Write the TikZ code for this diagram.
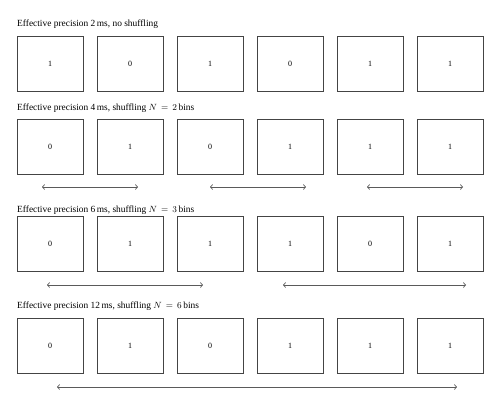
\documentclass[tikz,border=0pt]{standalone}
\usepackage{fontspec}
\setmainfont{Liberation Serif}
\usetikzlibrary{arrows.meta}

\definecolor{binedge}{HTML}{444444}
\definecolor{spanline}{HTML}{5A5A5A}

\begin{document}
\begin{tikzpicture}[
  x=1pt, y=-1pt,
  bin/.style={draw=binedge, line width=0.9pt, minimum width=66pt, minimum height=55pt,
              inner sep=0pt, font=\fontsize{8}{9}\selectfont},
  heading/.style={anchor=base west, inner sep=0pt, font=\fontsize{9.4}{11}\selectfont},
  span/.style={draw=spanline, line width=0.7pt, {Straight Barb[length=2.2pt,width=5pt]}-{Straight Barb[length=2.2pt,width=5pt]}},
]
\useasboundingbox (0,0) rectangle (500,408);

% headings
\node[heading] (h1) at (17,26)  {Effective precision 2\,ms, no shuffling};
\node[heading] (h2) at (17,110) {Effective precision 4\,ms, shuffling $N\,=\,2$\,bins};
\node[heading] (h3) at (17,212) {Effective precision 6\,ms, shuffling $N\,=\,3$\,bins};
\node[heading] (h4) at (17,308) {Effective precision 12\,ms, shuffling $N\,=\,6$\,bins};

% bins
\foreach \v [count=\i] in {1,0,1,0,1,1}
  \node[bin] (a\i) at ({50+80*(\i-1)},63.5) {\v};
\foreach \v [count=\i] in {0,1,0,1,1,1}
  \node[bin] (b\i) at ({50+80*(\i-1)},147) {\v};
\foreach \v [count=\i] in {0,1,1,1,0,1}
  \node[bin] (c\i) at ({50+80*(\i-1)},243.5) {\v};
\foreach \v [count=\i] in {0,1,0,1,1,1}
  \node[bin] (d\i) at ({50+80*(\i-1)},345.5) {\v};

% shuffling spans
\coordinate (s1l) at (42,187);  \coordinate (s1r) at (138,187);
\coordinate (s2l) at (210,187); \coordinate (s2r) at (306,187);
\coordinate (s3l) at (367,187); \coordinate (s3r) at (463,187);
\coordinate (t1l) at (47,285);  \coordinate (t1r) at (203,285);
\coordinate (t2l) at (283,285); \coordinate (t2r) at (466,285);
\coordinate (u1l) at (57,387);  \coordinate (u1r) at (457,387);

\draw[span] (s1l) -- (s1r);
\draw[span] (s2l) -- (s2r);
\draw[span] (s3l) -- (s3r);
\draw[span] (t1l) -- (t1r);
\draw[span] (t2l) -- (t2r);
\draw[span] (u1l) -- (u1r);
\end{tikzpicture}
\end{document}
